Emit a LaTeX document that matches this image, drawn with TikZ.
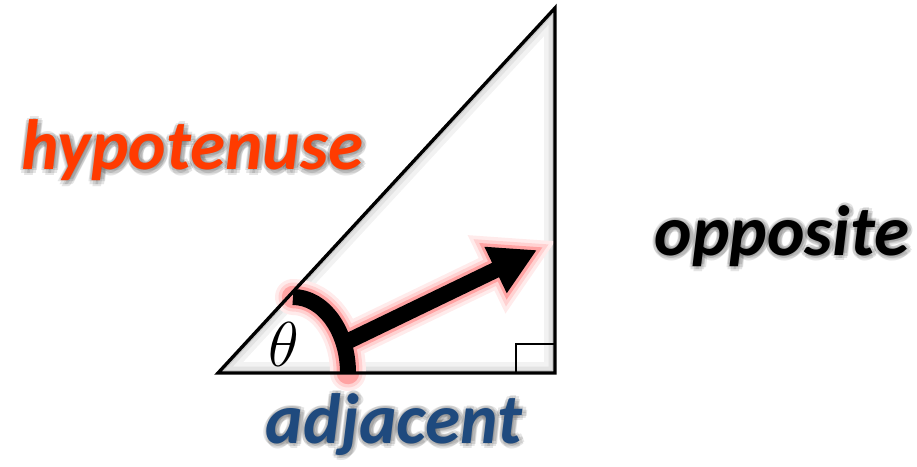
\documentclass[tikz,border=0pt]{standalone}
\usepackage{fontspec}
\setmainfont{Carlito}
\usepackage{tikz}
\usetikzlibrary{arrows.meta,calc}
\definecolor{HypOrange}{HTML}{FF3B00}
\definecolor{AdjBlue}{HTML}{1F4A7E}

\begin{document}
\begin{tikzpicture}[
  sidelabel/.style={font=\fontsize{40.5}{41}\selectfont\bfseries\itshape,
               anchor=base, inner sep=0pt},
  halo/.style={sidelabel, text=black, opacity=0.10},
  edge/.style={line width=1.9pt, line join=miter},
  pointer/.style={line width=0.32cm, draw=black}
]
\useasboundingbox (0,0) rectangle (18.34,9.32);
\coordinate (A) at (4.36,1.86);
\coordinate (B) at (11.10,1.86);
\coordinate (C) at (11.10,9.16);
\coordinate (arcC) at (5.86,1.86);
\coordinate (foot) at ($(arcC)+(23:1.1 and 1.52)$);
\coordinate (tip) at (10.74,4.32);

% soft shadow inside the triangle
\begin{scope}
  \clip (A) -- (B) -- (C) -- cycle;
  \draw[line width=0.44cm, black!5] (A) -- (B) -- (C) -- cycle;
  \draw[line width=0.26cm, black!11] (A) -- (B) -- (C) -- cycle;
  \draw[line width=0.12cm, black!20] (A) -- (B) -- (C) -- cycle;
\end{scope}

% red glow under the angle marker
\foreach \w/\c/\L/\W/\s in {0.72cm/8/1.55cm/1.62cm/-0.43cm,
                            0.58cm/18/1.33cm/1.39cm/-0.28cm,
                            0.45cm/36/1.12cm/1.17cm/-0.14cm}{
  \draw[line width=\w, draw=red!\c, line cap=round]
    (arcC) ++(0:1.1) arc[start angle=0, end angle=90, x radius=1.1, y radius=1.52];
  \draw[line width=\w, draw=red!\c, shorten >=\s,
        -{Triangle[length=\L, width=\W]}] (foot) -- (tip);
}

% triangle
\draw[edge] (A) -- (B) -- (C) -- cycle;
\draw[line width=1pt] ($(B)+(-0.78,0)$) coordinate (sq1) -- ++(0,0.58) coordinate (sq2) -- ($(B)+(0,0.58)$);

% angle marker
\draw[pointer] (arcC) ++(0:1.1) arc[start angle=0, end angle=90, x radius=1.1, y radius=1.52];
\draw[pointer, -{Triangle[length=0.92cm, width=0.96cm]}] (foot) -- (tip);
\node (theta) at (5.68,2.44) {\scalebox{1.45}{\fontsize{24.88}{25}\selectfont$\theta$}};

% labels with grey halo
\foreach \a [count=\i] in {0,45,...,315}{
  \node[halo] (hyp-h\i) at ($(3.87,5.90)+(\a:0.08)$) {hypotenuse};
  \node[halo] (opp-h\i) at ($(15.66,4.20)+(\a:0.08)$) {opposite};
  \node[halo] (adj-h\i) at ($(7.90,0.44)+(\a:0.08)$) {adjacent};
}
\node[sidelabel, text=HypOrange] (hyp) at (3.85,5.92) {hypotenuse};
\node[sidelabel, text=black] (opp) at (15.64,4.22) {opposite};
\node[sidelabel, text=AdjBlue] (adj) at (7.88,0.46) {adjacent};
\end{tikzpicture}
\end{document}
